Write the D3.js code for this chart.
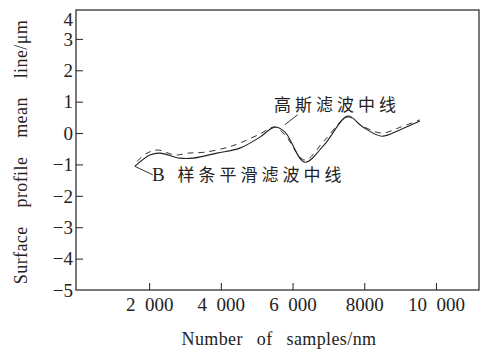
<!DOCTYPE html>
<html>
<head>
<meta charset="utf-8">
<script src="https://cdn.jsdelivr.net/npm/d3@7"></script>
<style>
  html, body { margin: 0; padding: 0; background: #fff; }
  svg { display: block; }
</style>
</head>
<body>
<div id="chart"></div>
<script>
// data
const splineX = [1600, 2020, 2300, 2860, 3220, 3890, 4530, 5090, 5500, 5790, 6340, 6900, 7540, 7950, 8490, 8990, 9550];
const splineY = [-1.06, -0.70, -0.64, -0.80, -0.80, -0.64, -0.48, -0.13, 0.19, 0.03, -0.93, -0.35, 0.54, 0.20, -0.10, 0.10, 0.38];

const gaussX = [1660, 1940, 2240, 2720, 3080, 3550, 4200, 4590, 5090, 5500, 5790, 6340, 6900, 7540, 7950, 8490, 8990, 9550];
const gaussY = [-0.90, -0.64, -0.54, -0.70, -0.64, -0.61, -0.45, -0.29, -0.03, 0.19, -0.06, -0.86, -0.22, 0.51, 0.22, 0.00, 0.18, 0.42];

const xTicks = [2000, 4000, 6000, 8000, 10000];
const xTickLabels = ['2\u2002000', '4\u2002000', '6\u2002000', '8000', '10\u2002000'];
const yTicks = [-5, -4, -3, -2, -1, 0, 1, 2, 3, 4];

const W = 483, H = 352;
const margin = { top: 10, right: 4, bottom: 62, left: 76 };
const width = W - margin.left - margin.right;
const height = H - margin.top - margin.bottom;

const svg = d3.select('#chart').append('svg')
  .attr('width', W)
  .attr('height', H);

const g = svg.append('g')
  .attr('transform', `translate(${margin.left},${margin.top})`);

const x = d3.scaleLinear().domain([-40, 11200]).range([0, width]);
const y = d3.scaleLinear().domain([-5, 3.92]).range([height, 0]);

const serif = '"Liberation Serif", "DejaVu Serif", serif';
const cjk = '"Noto Sans CJK SC", sans-serif';

// frame
g.append('rect')
  .attr('x', 0).attr('y', 0)
  .attr('width', width).attr('height', height)
  .attr('fill', 'none')
  .attr('stroke', '#222')
  .attr('stroke-width', 1.2);

// y axis, ticks inside
const yAxis = g.append('g')
  .call(d3.axisLeft(y).tickValues(yTicks).tickSize(-7).tickPadding(3)
    .tickFormat(d => d < 0 ? '\u2212' + Math.abs(d) : String(d)));
yAxis.select('.domain').remove();
yAxis.selectAll('.tick line').attr('stroke', '#222')
  .attr('display', d => (d === -5 || d === 4) ? 'none' : null);
yAxis.selectAll('.tick text')
  .style('font-family', serif)
  .style('font-size', '19px')
  .attr('fill', '#222')
  .attr('dy', d => d === 4 ? '0.95em' : '0.33em');

// x axis, ticks pointing up
const xAxis = g.append('g')
  .attr('transform', `translate(0,${height})`)
  .call(d3.axisBottom(x).tickValues(xTicks).tickSize(-7).tickPadding(8)
    .tickFormat((d, i) => xTickLabels[i]));
xAxis.select('.domain').remove();
xAxis.selectAll('.tick line').attr('stroke', '#222');
xAxis.selectAll('.tick text')
  .style('font-family', serif)
  .style('font-size', '19px')
  .attr('fill', '#222');

// axis titles
svg.append('text')
  .attr('x', 279).attr('y', 345)
  .attr('text-anchor', 'middle')
  .style('font-family', serif)
  .style('font-size', '18px')
  .style('letter-spacing', '0.4px')
  .style('word-spacing', '9px')
  .attr('fill', '#222')
  .text('Number of samples/nm');

svg.append('text')
  .attr('transform', 'translate(27,152) rotate(-90)')
  .attr('text-anchor', 'middle')
  .style('font-family', serif)
  .style('font-size', '18px')
  .style('letter-spacing', '0.4px')
  .style('word-spacing', '14px')
  .attr('fill', '#222')
  .text('Surface profile mean line/\u03bcm');

// curves
const line = d3.line()
  .x(d => x(d[0]))
  .y(d => y(d[1]))
  .curve(d3.curveCatmullRom.alpha(0.5));

g.append('path')
  .datum(d3.zip(gaussX, gaussY))
  .attr('fill', 'none')
  .attr('stroke', '#333')
  .attr('stroke-width', 1)
  .attr('stroke-dasharray', '6,5')
  .attr('d', line);

g.append('path')
  .datum(d3.zip(splineX, splineY))
  .attr('fill', 'none')
  .attr('stroke', '#222')
  .attr('stroke-width', 1.1)
  .attr('d', line);

// leader lines and labels
const leaders = [
  { from: [splineX[0], splineY[0]], to: [2100, -1.33] },
  { from: [5790, 0.27], to: [6140, 0.58] }
];
g.selectAll('.leader')
  .data(leaders)
  .enter().append('line')
  .attr('class', 'leader')
  .attr('x1', d => x(d.from[0])).attr('y1', d => y(d.from[1]))
  .attr('x2', d => x(d.to[0])).attr('y2', d => y(d.to[1]))
  .attr('stroke', '#333')
  .attr('stroke-width', 1);

const bLabel = g.append('text')
  .attr('x', x(2080)).attr('y', y(-1.33))
  .attr('dy', '0.36em')
  .style('font-size', '17px')
  .style('letter-spacing', '4px')
  .attr('fill', '#222');
bLabel.append('tspan')
  .style('font-family', serif)
  .style('font-size', '19px')
  .text('B ');
bLabel.append('tspan')
  .style('font-family', cjk)
  .text('样条平滑滤波中线');

g.append('text')
  .attr('x', x(5480)).attr('y', y(0.9))
  .attr('dy', '0.36em')
  .style('font-family', cjk)
  .style('font-size', '17px')
  .style('letter-spacing', '4px')
  .attr('fill', '#222')
  .text('高斯滤波中线');
</script>
</body>
</html>
